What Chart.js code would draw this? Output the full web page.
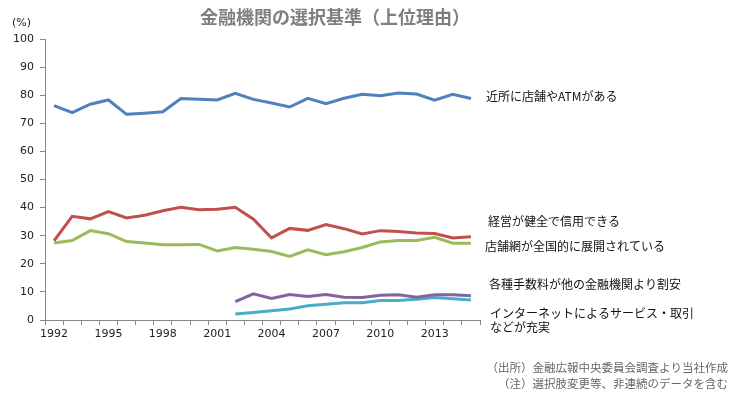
<!DOCTYPE html>
<html>
<head>
<meta charset="utf-8">
<script src="https://cdn.jsdelivr.net/npm/chart.js"></script>
<style>
  html, body { margin: 0; padding: 0; background: #fff; }
  #wrap { width: 740px; height: 394px; position: relative; }
</style>
</head>
<body>
<div id="wrap"><canvas id="myChart" width="740" height="394"></canvas></div>
<script>
const years = ['1992','1993','1994','1995','1996','1997','1998','1999','2000','2001','2002','2003',
               '2004','2005','2006','2007','2008','2009','2010','2011','2012','2013','2014','2015'];

const nearby   = [76.3, 73.8, 76.8, 78.3, 73.2, 73.6, 74.1, 78.8, 78.6, 78.3, 80.7, 78.5,
                  77.2, 75.8, 78.9, 77.0, 78.9, 80.3, 79.8, 80.8, 80.4, 78.2, 80.3, 78.8];
const sound    = [28.2, 36.9, 36.0, 38.6, 36.3, 37.3, 38.9, 40.1, 39.2, 39.4, 40.1, 35.9,
                  29.2, 32.6, 31.9, 34.0, 32.5, 30.6, 31.8, 31.5, 31.0, 30.8, 29.2, 29.6];
const network  = [27.4, 28.3, 31.8, 30.7, 27.9, 27.4, 26.8, 26.8, 26.9, 24.6, 25.8, 25.2,
                  24.4, 22.6, 25.0, 23.2, 24.3, 25.8, 27.8, 28.3, 28.3, 29.4, 27.3, 27.3];
const fees     = [null, null, null, null, null, null, null, null, null, null, 6.5, 9.3,
                  7.7, 9.1, 8.4, 9.1, 8.1, 8.0, 8.8, 9.0, 8.1, 9.0, 9.0, 8.6];
const internet = [null, null, null, null, null, null, null, null, null, null, 2.1, 2.7,
                  3.3, 3.9, 5.1, 5.6, 6.1, 6.1, 6.9, 6.9, 7.4, 8.0, 7.6, 7.1];

const seriesNames = ['近所に店舗やATMがある', '経営が健全で信用できる', '店舗網が全国的に展開されている',
                     '各種手数料が他の金融機関より割安', 'インターネットによるサービス・取引'];
const colors = ['#4F81BD', '#C0504D', '#9BBB59', '#8064A2', '#4BACC6'];

// right-hand labels: text lines and the y value where each line sits
const labelLines = ['近所に店舗やATMがある', '経営が健全で信用できる', '店舗網が全国的に展開されている',
                    '各種手数料が他の金融機関より割安', 'インターネットによるサービス・取引', 'などが充実'];
const labelYs = [79.7, 35.2, 26.3, 12.8, 2.5, -2.8];
const labelXs = [486, 488, 485, 489, 490, 490];

const title = '金融機関の選択基準（上位理由）';
const notes = ['（出所）金融広報中央委員会調査より当社作成', '（注）選択肢変更等、非連続のデータを含む'];

const jp = '"Noto Sans CJK JP", "Noto Sans", sans-serif';

const textPlugin = {
  id: 'texts',
  afterDraw(chart) {
    const ctx = chart.ctx;
    const y = chart.scales.y;
    ctx.save();
    // title
    ctx.fillStyle = '#7f7f7f';
    ctx.font = 'bold 18px ' + jp;
    ctx.textAlign = 'center';
    ctx.textBaseline = 'middle';
    ctx.fillText(title, 335, 17);
    // unit
    ctx.fillStyle = '#222';
    ctx.font = '11px "DejaVu Sans", sans-serif';
    ctx.textAlign = 'left';
    ctx.fillText('(%)', 12, 23);
    // series labels
    ctx.font = '12px ' + jp;
    ctx.fillStyle = '#111';
    labelLines.forEach((t, i) => {
      ctx.fillText(t, labelXs[i], y.getPixelForValue(labelYs[i]));
    });
    // notes
    ctx.fillStyle = '#666';
    ctx.font = '11.5px ' + jp;
    ctx.textAlign = 'right';
    ctx.fillText(notes[0], 728, 368);
    ctx.fillText(notes[1], 728, 384);
    ctx.restore();
  }
};

const allSeries = [nearby, sound, network, fees, internet];

new Chart(document.getElementById('myChart'), {
  type: 'line',
  data: {
    labels: years,
    datasets: allSeries.map((d, i) => ({
      label: seriesNames[i],
      data: d,
      borderColor: colors[i],
      backgroundColor: colors[i],
      borderWidth: 3,
      pointRadius: 0,
      tension: 0,
      fill: false
    }))
  },
  options: {
    responsive: false,
    animation: false,
    layout: { padding: { top: 39, right: 260, left: 0, bottom: 0 } },
    plugins: { legend: { display: false }, tooltip: { enabled: false } },
    scales: {
      x: {
        offset: true,
        grid: { offset: true, drawOnChartArea: false, drawTicks: true, tickLength: 5, color: '#888' },
        border: { display: true, color: '#888', width: 1 },
        ticks: {
          autoSkip: false, maxRotation: 0, padding: 3,
          color: '#222', font: { family: 'DejaVu Sans', size: 11 },
          callback: function (v, i) { return i % 3 === 0 ? this.getLabelForValue(v) : ''; }
        },
        afterFit(s) { s.height = 74; }
      },
      y: {
        min: 0, max: 100,
        grid: { drawOnChartArea: false, drawTicks: true, tickLength: 5, color: '#888' },
        border: { display: true, color: '#888', width: 1 },
        ticks: { stepSize: 10, padding: 6, color: '#222', font: { family: 'DejaVu Sans', size: 11 } },
        afterFit(s) { s.width = 45; }
      }
    }
  },
  plugins: [textPlugin]
});
</script>
</body>
</html>
